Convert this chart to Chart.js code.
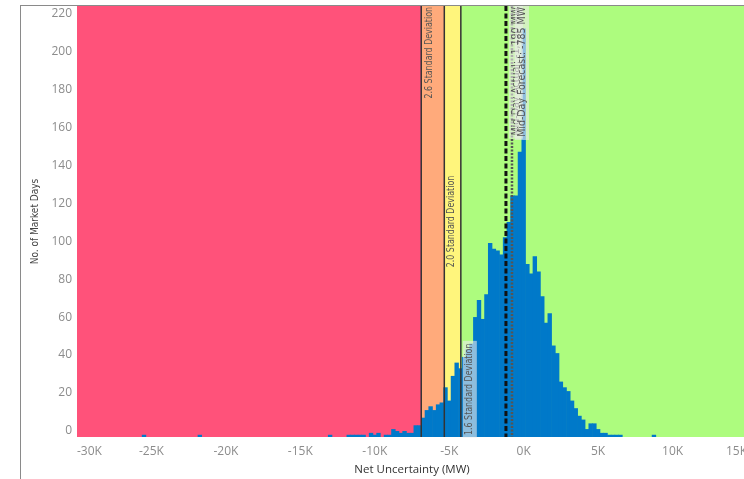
<!DOCTYPE html>
<html lang="en">
<head>
<meta charset="UTF-8">
<title>Net Uncertainty Histogram</title>
<script src="https://cdn.jsdelivr.net/npm/chart.js"></script>
<style>
  html, body { margin: 0; padding: 0; background: #fff; overflow: hidden; width: 744px; height: 479px; }
  #frame { position: absolute; left: 20px; top: 5px; width: 740px; height: 474px;
           border-left: 1px solid #8a8a8a; border-top: 1px solid #8a8a8a; }
  #frame canvas { display: block; }
</style>
</head>
<body>
<div id="frame"><canvas id="histo" width="740" height="473"></canvas></div>

<script>
// histogram bins (centre of each 250 MW bin) and number of market days in it
const binCentersMW = [
  -25500, -21750, -13000, -11750, -11500, -11250, -11000, -10750, -10250, -10000,
  -9750, -9250, -9000, -8750, -8500, -8250, -8000, -7750, -7500, -7250,
  -7000, -6750, -6500, -6250, -6000, -5750, -5500, -5250, -5000, -4750,
  -4500, -4250, -4000, -3750, -3500, -3250, -3000, -2750, -2500, -2250,
  -2000, -1750, -1500, -1250, -1000, -750, -500, -250, 0, 250,
  500, 750, 1000, 1250, 1500, 1750, 2000, 2250, 2500, 2750,
  3000, 3250, 3500, 3750, 4000, 4250, 4500, 4750, 5000, 5250,
  5500, 5750, 6000, 6250, 6500, 8750
];
const marketDays = [
  1, 1, 1, 1, 1, 1, 1, 1, 2, 1,
  2, 1, 1, 4, 3, 2, 3, 2, 2, 6,
  6, 10, 14, 16, 14, 17, 18, 26, 19, 32,
  39, 36, 42, 46, 49, 63, 72, 62, 75, 102,
  99, 98, 96, 105, 113, 127, 127, 150, 215, 91,
  86, 95, 87, 74, 60, 65, 48, 44, 29, 26,
  24, 19, 15, 11, 9, 4, 7, 7, 4, 2,
  2, 1, 1, 1, 1, 1
];

// axis ticks
const xTickValues = [-30000, -25000, -20000, -15000, -10000, -5000, 0, 5000, 10000, 15000];
const yTickValues = [0, 20, 40, 60, 80, 100, 120, 140, 160, 180, 200, 220];

// standard deviation reference lines
const sdValuesMW = [-6880, -5330, -4220];
const sdLabels = ['2.6 Standard Deviation', '2.0 Standard Deviation', '1.6 Standard Deviation'];

// mid-day reference lines
const midDayValuesMW = [-1190, -785];
const midDayLabels = ['Mid-Day Actual: -1,190 MW', 'Mid-Day Forecast: -785 MW'];

// coloured zones: red up to 2.6 sd, orange, yellow, green
const zoneColors = ['#FF527A', '#FFAA7B', '#FFF57C', '#ADFC7E'];

const narrowFont = "'Liberation Sans Narrow', 'DejaVu Sans Condensed', 'Liberation Sans', sans-serif";
const tickFont = "'Open Sans', 'Lato', sans-serif";

// vertical label, rotated so it reads bottom to top, squeezed along the text
function vLabel(ctx, text, x, y, align, box, squeeze) {
    ctx.save();
    ctx.translate(x, y);
    ctx.rotate(-Math.PI / 2);
    ctx.scale(squeeze, 1);
    ctx.font = '10px ' + narrowFont;
    ctx.textAlign = align;
    ctx.textBaseline = 'middle';
    if (box) {
        const w = ctx.measureText(text).width + 6;
        let x0 = align === 'right' ? -w + 3 : align === 'left' ? -3 : -w / 2;
        ctx.fillStyle = 'rgba(235,235,235,0.6)';
        ctx.fillRect(x0, -7, w, 14);
    }
    ctx.fillStyle = '#555';
    ctx.fillText(text, 0, 0);
    ctx.restore();
}

const zonePlugin = {
    id: 'zones',
    beforeDatasetsDraw(chart) {
        const { ctx, chartArea: a, scales: { x } } = chart;
        const edges = [a.left, ...sdValuesMW.map(v => x.getPixelForValue(v)), a.right];
        ctx.save();
        zoneColors.forEach((c, i) => {
            ctx.fillStyle = c;
            ctx.fillRect(edges[i], a.top, edges[i + 1] - edges[i], a.bottom - a.top);
        });
        ctx.restore();
    },
    afterDatasetsDraw(chart) {
        const { ctx, chartArea: a, scales: { x } } = chart;
        ctx.save();
        // sd lines
        ctx.strokeStyle = '#333';
        ctx.lineWidth = 1.5;
        sdValuesMW.forEach(v => {
            const px = x.getPixelForValue(v);
            ctx.beginPath();
            ctx.moveTo(px, a.top);
            ctx.lineTo(px, a.bottom);
            ctx.stroke();
        });
        // actual (dashed) and forecast (dotted)
        const mx = midDayValuesMW.map(v => x.getPixelForValue(v));
        ctx.strokeStyle = '#111';
        ctx.lineWidth = 3;
        ctx.setLineDash([5, 2.5]);
        ctx.beginPath(); ctx.moveTo(mx[0], a.top); ctx.lineTo(mx[0], a.bottom); ctx.stroke();
        ctx.strokeStyle = '#555';
        ctx.lineWidth = 2.5;
        ctx.setLineDash([2, 1.5]);
        ctx.beginPath(); ctx.moveTo(mx[1], a.top); ctx.lineTo(mx[1], a.bottom); ctx.stroke();
        ctx.restore();

        // labels
        const sx = sdValuesMW.map(v => x.getPixelForValue(v));
        vLabel(ctx, sdLabels[0], sx[0] + 8, a.top + 1, 'right', false, 0.88);
        vLabel(ctx, sdLabels[1], sx[1] + 7, (a.top + a.bottom) / 2, 'center', false, 0.88);
        vLabel(ctx, sdLabels[2], sx[2] + 9, a.bottom - 2, 'left', true, 0.88);
        vLabel(ctx, midDayLabels[0], mx[0] + 10, a.top + 1, 'right', true, 1.05);
        vLabel(ctx, midDayLabels[1], mx[1] + 10, a.top + 1, 'right', true, 1.05);
    }
};

new Chart(document.getElementById('histo'), {
    type: 'bar',
    data: {
        datasets: [{
            label: 'No. of Market Days',
            data: binCentersMW.map((b, i) => ({ x: b, y: marketDays[i] })),
            backgroundColor: '#0079C9',
            borderColor: '#0079C9',
            borderWidth: 0,
            barPercentage: 1,
            categoryPercentage: 1
        }]
    },
    options: {
        responsive: false,
        animation: false,
        events: [],
        layout: { padding: { left: 0, top: 0, right: 14, bottom: 0 } },
        plugins: { legend: { display: false }, tooltip: { enabled: false } },
        scales: {
            x: {
                type: 'linear',
                offset: false,
                min: -30000,
                max: 15000,
                border: { display: false },
                grid: { display: false, drawTicks: false, offset: false },
                afterBuildTicks: s => { s.ticks = xTickValues.map(v => ({ value: v })); },
                afterFit: s => { s.height = 42; s.paddingLeft = 0; s.paddingRight = 0; },
                ticks: {
                    align: 'inner',
                    padding: 7,
                    maxRotation: 0,
                    color: '#8c8c8c',
                    font: { family: tickFont, size: 12 },
                    callback: v => (v / 1000) + 'K'
                },
                title: {
                    display: true,
                    text: 'Net Uncertainty (MW)',
                    color: '#333',
                    font: { family: tickFont, size: 11.5 },
                    padding: { top: 4, bottom: 2 }
                }
            },
            y: {
                min: 0,
                max: 227,
                border: { display: false },
                grid: { display: false, drawTicks: false },
                afterBuildTicks: s => { s.ticks = yTickValues.map(v => ({ value: v })); },
                afterFit: s => { s.width = 56; s.paddingTop = 0; s.paddingBottom = 0; },
                ticks: {
                    padding: 5,
                    labelOffset: -6,
                    color: '#8c8c8c',
                    font: { family: tickFont, size: 12 }
                },
                title: {
                    display: true,
                    text: 'No. of Market Days',
                    color: '#444',
                    font: { family: narrowFont, size: 10 },
                    padding: { top: 8, bottom: 0 }
                }
            }
        }
    },
    plugins: [zonePlugin]
});
</script>
</body>
</html>
